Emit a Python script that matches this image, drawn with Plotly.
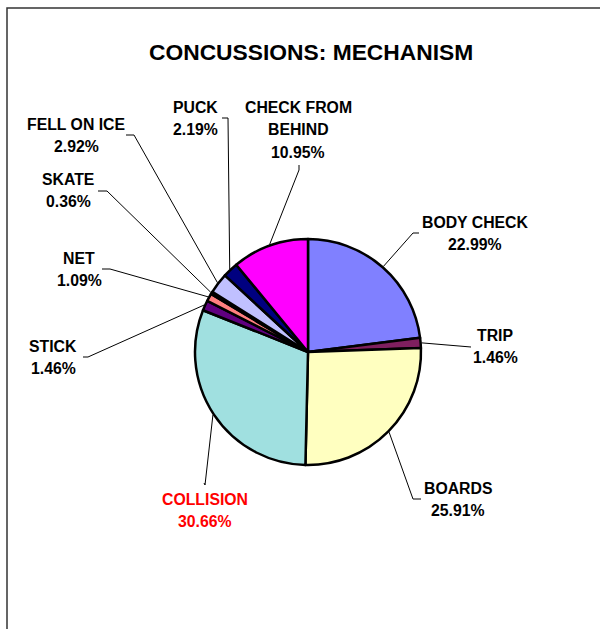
import numpy as np
import plotly.graph_objects as go

# slices, clockwise from 12 o'clock
labels = ["BODY CHECK", "TRIP", "BOARDS", "COLLISION", "STICK", "NET",
          "SKATE", "FELL ON ICE", "PUCK", "CHECK FROM BEHIND"]
percents = [22.99, 1.46, 25.91, 30.66, 1.46, 1.09, 0.36, 2.92, 2.19, 10.95]
label_lines = [["BODY CHECK"], ["TRIP"], ["BOARDS"], ["COLLISION"], ["STICK"], ["NET"],
               ["SKATE"], ["FELL ON ICE"], ["PUCK"], ["CHECK FROM", "BEHIND"]]
colors = ["#8080FF", "#7F1F5F", "#FFFFC0", "#A0E0E0", "#600080", "#FF8080",
          "#0066CC", "#C0C0FF", "#000080", "#FF00FF"]
text_colors = ["black", "black", "black", "#FF0000", "black", "black",
               "black", "black", "black", "black"]

W, H = 600, 629
CX, CY, R = 308, 352, 113
LINE_H = 22.5

# label block position (first line centre) and leader line end points, in pixels
label_xy = [(475, 222), (495, 335), (458, 488), (205, 499), (53, 346), (79, 258),
            (68, 179), (76, 124), (195, 107), (298, 107)]
leader_end = [[(413, 233), (419, 233)], [(471, 347)], [(413, 499), (421, 499)],
              [(205, 485), (204, 483)], [(88, 357), (83, 357)], [(110, 269), (102, 269)],
              [(107, 191), (98, 191)], [(134, 135), (126, 135)], [(228, 118), (222, 118)],
              [(299, 170), (299, 165)]]

fig = go.Figure()

fig.add_trace(go.Pie(
    labels=labels, values=percents, sort=False, direction="clockwise", rotation=0,
    marker=dict(colors=colors, line=dict(color="black", width=2.5)),
    textinfo="none", hoverinfo="label+percent", showlegend=False,
    domain=dict(x=[(CX - R) / W, (CX + R) / W], y=[1 - (CY + R) / H, 1 - (CY - R) / H]),
))

# leader lines from the middle of each slice edge
total = sum(percents)
cum = np.cumsum(percents)
for i, p in enumerate(percents):
    theta = 2 * np.pi * (cum[i] - p / 2) / total
    xs = [CX + (R + 1) * np.sin(theta)] + [pt[0] for pt in leader_end[i]]
    ys = [CY - (R + 1) * np.cos(theta)] + [pt[1] for pt in leader_end[i]]
    fig.add_trace(go.Scatter(x=xs, y=ys, mode="lines", line=dict(color="black", width=1),
                             hoverinfo="skip", showlegend=False))

annotations = [dict(x=311, y=52, text="<b>CONCUSSIONS: MECHANISM</b>", showarrow=False,
                    xref="x", yref="y", xanchor="center", yanchor="middle",
                    font=dict(family="Liberation Sans, Arial", size=22.8, color="black"))]
for i, p in enumerate(percents):
    lines = label_lines[i] + [f"{p:.2f}%"]
    x0, y0 = label_xy[i]
    for k, t in enumerate(lines):
        annotations.append(dict(x=x0, y=y0 + k * LINE_H, text=f"<b>{t}</b>", showarrow=False,
                                xref="x", yref="y", xanchor="center", yanchor="middle",
                                font=dict(family="Liberation Sans, Arial", size=15.8,
                                          color=text_colors[i])))

fig.update_layout(
    width=W, height=H, margin=dict(l=0, r=0, t=0, b=0),
    paper_bgcolor="white", plot_bgcolor="white",
    xaxis=dict(range=[0, W], visible=False, fixedrange=True),
    yaxis=dict(range=[H, 0], visible=False, fixedrange=True),
    annotations=annotations,
    shapes=[dict(type="rect", xref="x", yref="y", x0=7, y0=8, x1=W + 20, y1=H + 20,
                 line=dict(color="#333333", width=1.5), layer="below")],
)

# drop the page's default body margin so the figure sits at the window's corner
fig.write_html("out.html", config={"displayModeBar": False},
               post_script="document.body.style.margin='0';document.body.style.overflow='hidden';")
